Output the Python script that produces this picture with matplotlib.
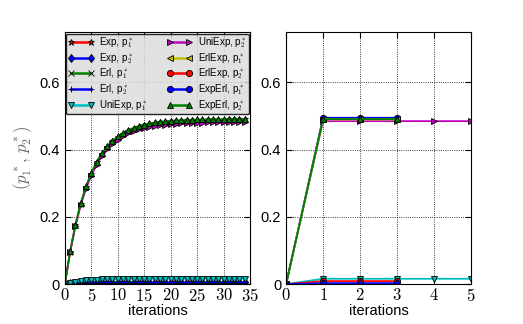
import matplotlib
matplotlib.use("Agg")
import matplotlib.pyplot as plt
from matplotlib.ticker import FuncFormatter
import numpy as np

plt.rcParams["font.family"] = ["Liberation Sans", "DejaVu Sans"]
plt.rcParams["mathtext.fontset"] = "cm"

# left panel: slow convergence, iterations 0..34
iters_left = np.arange(35)
exp_p1 = [0, .097, .176, .239, .289, .329, .362, .388, .408, .425, .438, .448,
          .457, .463, .469, .473, .476, .479, .481, .483, .484, .485, .486, .487,
          .487, .488, .488, .489, .489, .489, .489, .490, .490, .490, .490]
experl_p2_left = [0, .098, .177, .241, .291, .331, .364, .390, .410, .427, .440, .450,
                  .459, .465, .471, .475, .478, .481, .483, .485, .486, .487, .488, .489,
                  .489, .490, .490, .491, .491, .491, .491, .492, .492, .492, .492]
uniexp_p2 = [0, .095, .172, .235, .284, .323, .355, .381, .401, .417, .430, .440,
             .449, .455, .461, .465, .468, .471, .473, .475, .476, .477, .478, .479,
             .479, .480, .480, .481, .481, .481, .481, .482, .482, .482, .482]
exp_p2 = [0, .002, .003, .004, .004, .005, .005, .005, .005, .005, .005, .005,
          .005, .005, .005, .005, .005, .005, .005, .005, .005, .005, .005, .005,
          .005, .005, .005, .005, .005, .005, .005, .005, .005, .005, .005]
erl_p2 = [0, .001, .002, .002, .003, .003, .003, .003, .003, .003, .003, .003,
          .003, .003, .003, .003, .003, .003, .003, .003, .003, .003, .003, .003,
          .003, .003, .003, .003, .003, .003, .003, .003, .003, .003, .003]
uniexp_p1 = [0, .004, .007, .009, .011, .012, .013, .014, .014, .015, .015, .015,
             .016, .016, .016, .016, .016, .016, .016, .016, .016, .016, .016, .016,
             .016, .016, .016, .016, .016, .016, .016, .016, .016, .016, .016]

# right panel: fast convergence
iters_uni = np.arange(6)
r_uniexp_p1 = [0, .016, .016, .016, .016, .016]
r_uniexp_p2 = [0, .485, .485, .485, .485, .485]
iters_mix = np.arange(4)
erlexp_p1 = [0, .490, .490, .490]
erlexp_p2 = [0, .009, .009, .009]
experl_p1 = [0, .495, .495, .495]
experl_p2 = [0, .491, .491, .491]
r_exp_p2 = [0, .003, .003, .003]

styles = {
    "Exp, p$_1^*$": ("r", "*"),
    "Exp, p$_2^*$": ("b", "d"),
    "Erl, p$_1^*$": ("g", "x"),
    "Erl, p$_2^*$": ("b", "+"),
    "UniExp, p$_1^*$": ("c", "v"),
    "UniExp, p$_2^*$": ("m", ">"),
    "ErlExp, p$_1^*$": ("y", "<"),
    "ErlExp, p$_2^*$": ("r", "o"),
    "ExpErl, p$_1^*$": ("b", "o"),
    "ExpErl, p$_2^*$": ("g", "^"),
}

fig = plt.figure(figsize=(5.23, 3.24), dpi=100)
ax1 = fig.add_axes([0.124, 0.123, 0.354, 0.778])
ax2 = fig.add_axes([0.547, 0.123, 0.353, 0.778])


def draw(ax, x, y, label):
    c, m = styles[label]
    ax.plot(x, y, color=c, marker=m, markersize=4.5, markeredgecolor="k",
            markeredgewidth=0.6, lw=1.3)


draw(ax1, iters_left, exp_p1, "Exp, p$_1^*$")
draw(ax1, iters_left, exp_p2, "Exp, p$_2^*$")
draw(ax1, iters_left, erl_p2, "Erl, p$_2^*$")
draw(ax1, iters_left, uniexp_p1, "UniExp, p$_1^*$")
draw(ax1, iters_left, uniexp_p2, "UniExp, p$_2^*$")
draw(ax1, iters_left, experl_p2_left, "ExpErl, p$_2^*$")

draw(ax2, iters_uni, r_uniexp_p1, "UniExp, p$_1^*$")
draw(ax2, iters_uni, r_uniexp_p2, "UniExp, p$_2^*$")
draw(ax2, iters_mix, experl_p1, "ExpErl, p$_1^*$")
draw(ax2, iters_mix, erlexp_p1, "ErlExp, p$_1^*$")
draw(ax2, iters_mix, erlexp_p2, "ErlExp, p$_2^*$")
draw(ax2, iters_mix, r_exp_p2, "Exp, p$_2^*$")
draw(ax2, iters_mix, experl_p2, "ExpErl, p$_2^*$")

# legend handles in the original order
handles = []
for lab, (c, m) in styles.items():
    h, = ax1.plot([], [], color=c, marker=m, markersize=4.5, markeredgecolor="k",
                  markeredgewidth=0.6, lw=1.8, label=lab)
    handles.append(h)
leg = ax1.legend(handles=handles, ncol=2, loc="upper left", fontsize=7,
                 bbox_to_anchor=(0.0, 1.0, 1.0, 0.0), mode="expand",
                 borderaxespad=0.15, handlelength=2.6, labelspacing=0.12,
                 numpoints=2, fancybox=True, framealpha=0.85, borderpad=0.2,
                 handletextpad=0.6)
leg.get_frame().set_facecolor("#dcdcdc")
leg.get_frame().set_edgecolor("k")

fmt = FuncFormatter(lambda v, p: "$%g$" % v)
for ax, xmax, step in ((ax1, 35, 5), (ax2, 5, 1)):
    ax.set_xlim(0, xmax)
    ax.set_ylim(0, 0.75)
    ax.set_xticks(np.arange(0, xmax + 1, step))
    ax.set_yticks([0, 0.2, 0.4, 0.6])
    ax.set_yticklabels(["0", "0.2", "0.4", "0.6"])
    ax.xaxis.set_major_formatter(fmt)
    ax.grid(True, color="k", linestyle=":", linewidth=0.6)
    ax.tick_params(direction="in", top=True, right=True, labelsize=10.5, length=4)
    ax.tick_params(axis="x", labelsize=12, pad=2)
    ax.set_xlabel("iterations", fontsize=10.5, labelpad=0)

ax1.set_ylabel(r"$(p_1^*,\, p_2^*)$", fontsize=12, color="0.4", labelpad=4)

fig.savefig("out.png", dpi=100)
